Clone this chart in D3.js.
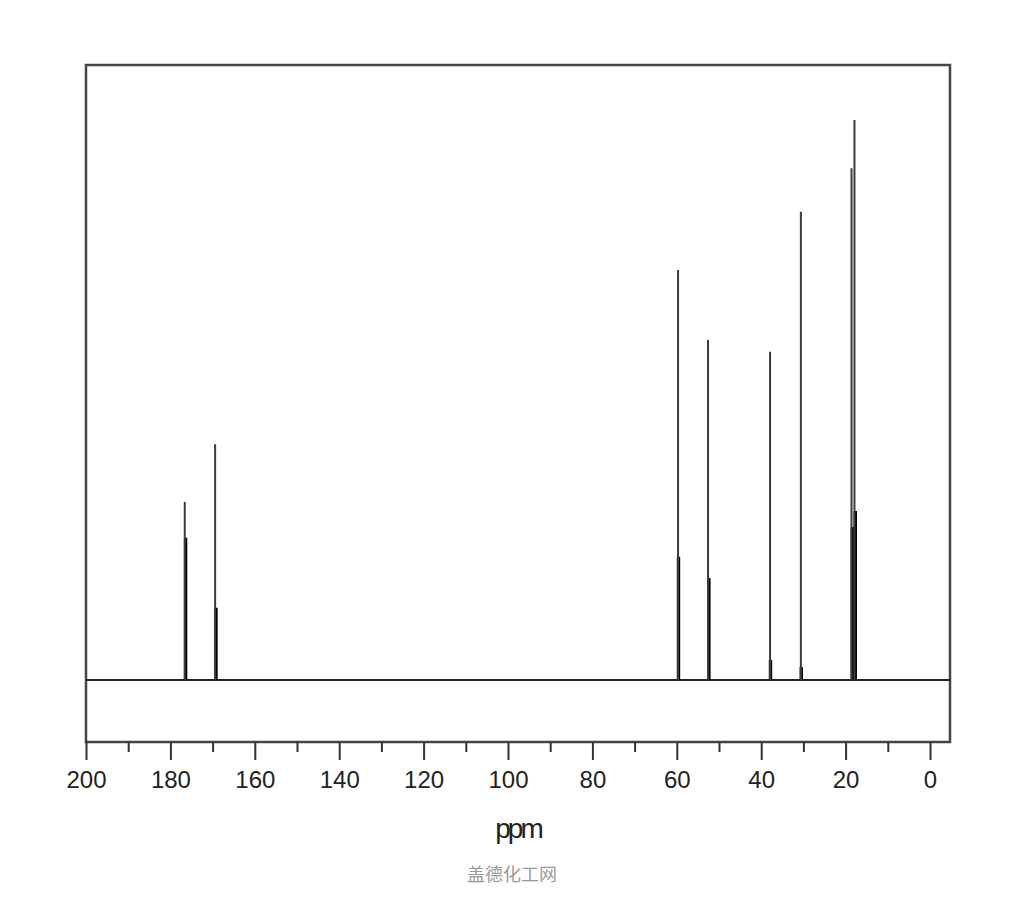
<!DOCTYPE html>
<html>
<head>
<meta charset="utf-8">
<script src="https://cdn.jsdelivr.net/npm/d3@7"></script>
<style>
  body { margin: 0; background: #fff; }
  .tick-label { font-family: "Liberation Sans", Arial, sans-serif; font-size: 24px; fill: #222; }
</style>
</head>
<body>
<script>
// peak positions (ppm) and relative heights
const thinShift  = [176.6, 169.4, 59.7, 52.6, 37.9, 30.6, 18.6, 17.9];
const thinHeight = [31.8, 42.1, 73.2, 60.7, 58.6, 83.6, 91.4, 100];
const thickShift  = [176.4, 169.2, 59.6, 52.4, 37.8, 30.5, 18.4, 17.7];
const thickHeight = [25.4, 12.9, 22.0, 18.2, 3.6, 2.3, 27.3, 30.2];
const majorTicks = [200, 180, 160, 140, 120, 100, 80, 60, 40, 20, 0];
const minorTicks = [190, 170, 150, 130, 110, 90, 70, 50, 30, 10];

const svg = d3.select("body").append("svg")
    .attr("width", 1024)
    .attr("height", 900);

const frame = { left: 86, top: 65, right: 950, bottom: 742 };
const baseY = 680;

// x: 200 ppm at the left edge, 0 ppm at 930
let x = d3.scaleLinear()
    .domain([200, 0])
    .range([86, 930]);

let y = d3.scaleLinear()
    .domain([0, 100])
    .range([baseY, 120]);

//frame
svg.append("rect")
    .attr("x", frame.left)
    .attr("y", frame.top)
    .attr("width", frame.right - frame.left)
    .attr("height", frame.bottom - frame.top)
    .attr("fill", "none")
    .attr("stroke", "#444")
    .attr("stroke-width", 2.5);

//baseline
svg.append("line")
    .attr("x1", frame.left)
    .attr("x2", frame.right)
    .attr("y1", baseY)
    .attr("y2", baseY)
    .attr("stroke", "#222")
    .attr("stroke-width", 2);

//thick lines
thickShift.forEach((s, i) =>
  svg.append("line")
    .attr("x1", x(s)).attr("x2", x(s))
    .attr("y1", baseY).attr("y2", y(thickHeight[i]))
    .attr("stroke", "#000")
    .attr("stroke-width", 3.4)
);

//thin lines
thinShift.forEach((s, i) =>
  svg.append("line")
    .attr("x1", x(s)).attr("x2", x(s))
    .attr("y1", baseY).attr("y2", y(thinHeight[i]))
    .attr("stroke", "#3a3a3a")
    .attr("stroke-width", 2)
);

//axis
const axis = svg.append("g")
    .attr("transform", `translate(0,${frame.bottom})`)
    .call(d3.axisBottom(x)
        .tickValues(majorTicks)
        .tickSize(18)
        .tickPadding(11)
        .tickFormat(d3.format("d")));
axis.select(".domain").remove();
axis.selectAll(".tick line").attr("stroke", "#333").attr("stroke-width", 2);
axis.selectAll(".tick text").attr("class", "tick-label").attr("fill", "#222");

const minor = svg.append("g")
    .attr("transform", `translate(0,${frame.bottom})`)
    .call(d3.axisBottom(x).tickValues(minorTicks).tickSize(10).tickFormat(""));
minor.select(".domain").remove();
minor.selectAll(".tick line").attr("stroke", "#333").attr("stroke-width", 2);

svg.append("text")
    .attr("x", 518)
    .attr("y", 838)
    .attr("text-anchor", "middle")
    .attr("font-family", "Liberation Sans, Arial, sans-serif")
    .attr("font-size", 28)
    .attr("letter-spacing", -3)
    .attr("fill", "#222")
    .text("ppm");

svg.append("text")
    .attr("x", 512)
    .attr("y", 881)
    .attr("text-anchor", "middle")
    .attr("font-family", "Noto Sans CJK SC, sans-serif")
    .attr("font-size", 18)
    .attr("fill", "#9a9a9a")
    .text("盖德化工网");
</script>
</body>
</html>
